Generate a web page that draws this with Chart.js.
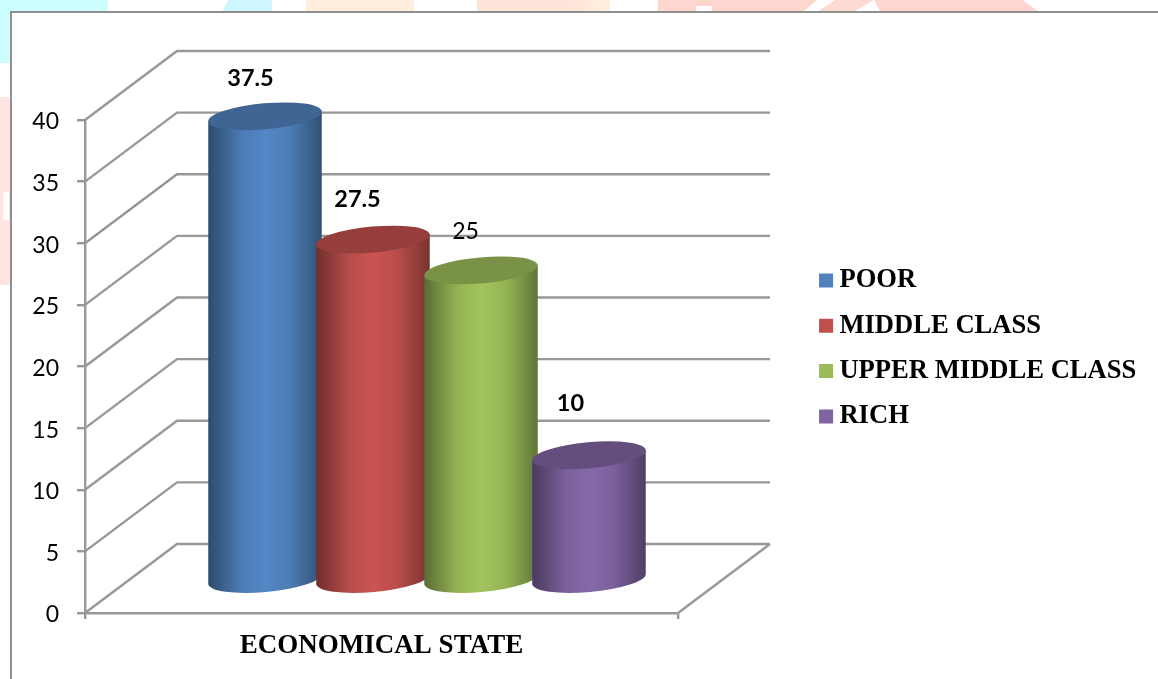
<!DOCTYPE html>
<html>
<head>
<meta charset="utf-8">
<style>
html,body{margin:0;padding:0;background:#fff;width:1158px;height:679px;overflow:hidden}
.p{position:absolute}
#frame{position:absolute;left:10px;top:11px;width:1148px;height:668px;background:#fff;border-left:2px solid #8f8f8f;border-top:2px solid #8f8f8f;box-sizing:border-box}
canvas{position:absolute;left:0;top:0}
</style>
</head>
<body>
<div class="p" style="left:0;top:0;width:108px;height:12px;background:#ccfdff"></div>
<div class="p" style="left:0;top:0;width:10px;height:63px;background:#ccfdff"></div>
<div class="p" style="left:0;top:97px;width:10px;height:188px;background:#ffe4e2"></div>
<div class="p" style="left:3px;top:192px;width:6px;height:28px;background:#fff"></div>
<div class="p" style="left:222px;top:0;width:50px;height:12px;background:#d0f6ff;clip-path:polygon(12% 0,100% 0,100% 100%,0 100%)"></div>
<div class="p" style="left:306px;top:0;width:108px;height:12px;background:#ffeddd"></div>
<div class="p" style="left:477px;top:0;width:133px;height:12px;background:linear-gradient(90deg,#ffe5d9 70%,#fff0e0)"></div>
<div class="p" style="left:658px;top:0;width:159px;height:12px;background:#ffd5cf;clip-path:polygon(0 0,100% 0,91% 100%,34% 100%,34% 50%,24% 50%,24% 100%,0 100%)"></div>
<div class="p" style="left:817px;top:0;width:57px;height:12px;background:#ffd9d3;clip-path:polygon(32% 0,100% 0,63% 100%,0 100%)"></div>
<div class="p" style="left:874px;top:0;width:165px;height:12px;background:#ffd5cf;clip-path:polygon(0 0,90% 0,100% 100%,4% 100%)"></div>
<div id="frame"></div>
<canvas id="c" width="1158" height="679"></canvas>
<script src="https://cdn.jsdelivr.net/npm/chart.js@4/dist/chart.umd.min.js"></script>
<script>
const categories = ["ECONOMICAL STATE"];
const seriesNames = ["POOR", "MIDDLE CLASS", "UPPER MIDDLE CLASS", "RICH"];
const seriesValues = [37.5, 27.5, 25, 10];
const seriesColors = ["#4f81bd", "#c0504d", "#9bbb59", "#8064a2"];
const valueLabelBold = [true, true, false, true];
const valueLabelOffset = [[-15, -72], [-16, -75], [-16, -73], [-19, -86]];
const yTickStep = 5, yMax = 40;

const GRID = "#989898";
const DEPTH_X = 92, DEPTH_Y = 69;
const TILT = -0.09, RY = 13;
const TICK_FONT = "Lato";
const SERIF = "'Liberation Serif'";

function shade(hex, f) {
  const n = parseInt(hex.slice(1), 16);
  const c = [n >> 16 & 255, n >> 8 & 255, n & 255].map(v => Math.min(255, Math.round(v * f)));
  return `rgb(${c[0]},${c[1]},${c[2]})`;
}

const backPlane = {
  id: "backPlane",
  beforeDatasetsDraw(chart) {
    const { ctx, scales: { x, y }, chartArea: a } = chart;
    ctx.save();
    ctx.strokeStyle = GRID;
    ctx.lineWidth = 2.4;
    y.ticks.forEach(t => {
      const py = y.getPixelForValue(t.value);
      ctx.beginPath();
      ctx.moveTo(a.left, py);
      ctx.lineTo(a.left + DEPTH_X, py - DEPTH_Y);
      ctx.lineTo(a.right + DEPTH_X, py - DEPTH_Y);
      ctx.stroke();
    });
    const y0 = y.getPixelForValue(0);
    ctx.beginPath();
    ctx.moveTo(a.right, y0);
    ctx.lineTo(a.right + DEPTH_X, y0 - DEPTH_Y);
    ctx.stroke();
    ctx.restore();
  }
};

const cylinders = {
  id: "cylinders",
  beforeDatasetDraw() { return false; },
  afterDatasetsDraw(chart) {
    const { ctx, scales: { y } } = chart;
    const y0 = y.getPixelForValue(0);
    chart.data.datasets.forEach((ds, i) => {
      const bar = chart.getDatasetMeta(i).data[0];
      const cx = bar.x + DEPTH_X / 2 - 0.5;
      const rx = bar.width / 2;
      const topY = y.getPixelForValue(ds.data[0]) - DEPTH_Y / 2;
      const baseY = y0 - DEPTH_Y / 2 + 0.5;
      const c = ds.backgroundColor;
      const dx = rx * Math.cos(TILT), dy = rx * Math.sin(TILT);
      const g = ctx.createLinearGradient(cx - rx, 0, cx + rx, 0);
      g.addColorStop(0, shade(c, 0.58));
      g.addColorStop(0.3, shade(c, 0.96));
      g.addColorStop(0.5, shade(c, 1.05));
      g.addColorStop(0.72, shade(c, 0.96));
      g.addColorStop(1, shade(c, 0.62));
      ctx.save();
      ctx.fillStyle = g;
      ctx.beginPath();
      ctx.moveTo(cx - dx, topY - dy);
      ctx.lineTo(cx - dx, baseY - dy);
      ctx.ellipse(cx, baseY, rx, RY, TILT, Math.PI, 0, true);
      ctx.lineTo(cx + dx, topY + dy);
      ctx.closePath();
      ctx.fill();
      ctx.fillStyle = shade(c, 0.78);
      ctx.beginPath();
      ctx.ellipse(cx, topY, rx, RY, TILT, 0, Math.PI * 2);
      ctx.fill();
      ctx.restore();
    });
    chart.data.datasets.forEach((ds, i) => {
      const bar = chart.getDatasetMeta(i).data[0];
      const v = ds.data[0];
      ctx.save();
      ctx.fillStyle = "#000";
      ctx.font = (valueLabelBold[i] ? "bold 23.5px " : "23px ") + TICK_FONT;
      ctx.textAlign = "center";
      ctx.textBaseline = "middle";
      ctx.fillText(String(v), bar.x + DEPTH_X / 2 + valueLabelOffset[i][0], y.getPixelForValue(v) + valueLabelOffset[i][1]);
      ctx.restore();
    });
  }
};

const placeLegend = {
  id: "placeLegend",
  afterLayout(chart) {
    const l = chart.legend;
    l.left = 807.3; l.top = 248.5;
    l.right = l.left + l.width;
    l.bottom = l.top + 500;
  }
};

const nudgeTicks = {
  id: "nudgeTicks",
  beforeDraw(chart) {
    const s = chart.scales.y;
    const items = s.getLabelItems(chart.chartArea);
    if (!items._nudged) {
      items.forEach(it => { it.textOffset += 2; });
      items._nudged = true;
    }
  }
};

new Chart(document.getElementById("c"), {
  type: "bar",
  data: {
    labels: categories,
    datasets: seriesNames.map((name, i) => ({
      label: name,
      data: [seriesValues[i]],
      backgroundColor: seriesColors[i],
      borderWidth: 0
    }))
  },
  plugins: [backPlane, cylinders, placeLegend, nudgeTicks],
  options: {
    responsive: false,
    animation: false,
    devicePixelRatio: 1,
    layout: { padding: { left: 0, right: 480, top: 120, bottom: 0 } },
    datasets: { bar: { categoryPercentage: 0.7285, barPercentage: 1.055 } },
    plugins: {
      title: { display: false },
      tooltip: { enabled: false },
      legend: {
        position: "chartArea",
        align: "start",
        labels: {
          usePointStyle: true,
          pointStyle: "rect",
          boxWidth: 0.1,
          boxHeight: 14,
          padding: 18.7,
          color: "#000",
          font: { family: SERIF, size: 26.6, weight: "bold" }
        }
      }
    },
    scales: {
      x: {
        afterFit(s) { s.height = 66; },
        grid: { drawOnChartArea: false, drawTicks: true, tickLength: 6, color: GRID, lineWidth: 2.4, offset: true },
        border: { color: GRID, width: 2.4 },
        ticks: { color: "#000", padding: 11, maxRotation: 0, font: { family: SERIF, size: 27, weight: "bold" } }
      },
      y: {
        min: 0,
        max: yMax,
        afterFit(s) { s.width = 85; },
        grid: { drawOnChartArea: false, drawTicks: true, tickLength: 8, color: GRID, lineWidth: 2.4 },
        border: { color: GRID, width: 2.4 },
        ticks: { stepSize: yTickStep, color: "#000", padding: 18, font: { family: TICK_FONT, size: 23 } }
      }
    }
  }
});
</script>
</body>
</html>
